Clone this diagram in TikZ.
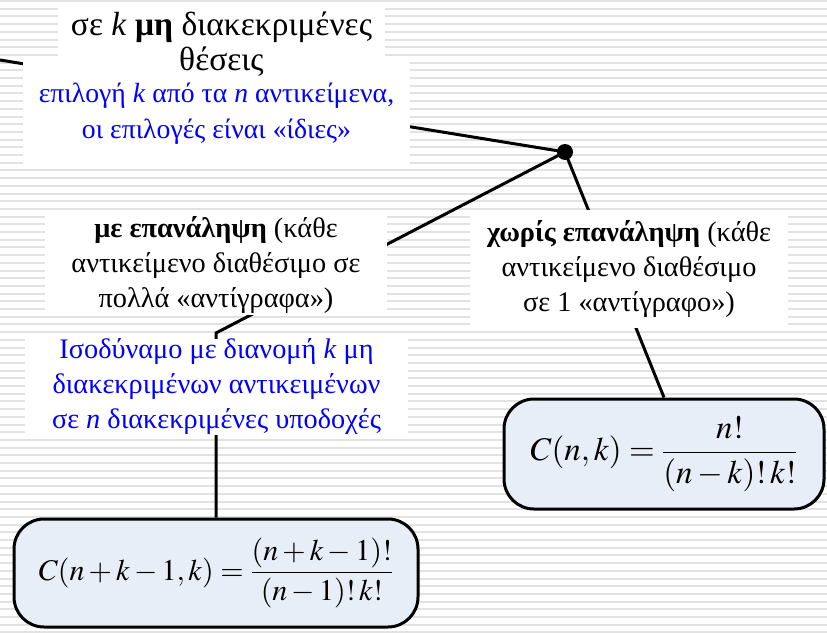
\documentclass[tikz,border=0pt]{standalone}
\usepackage{mathptmx}
\usepackage{fontspec}
\setmainfont{Liberation Serif}
\newfontfamily\greekserif{Liberation Serif}
\usetikzlibrary{positioning}
\definecolor{stripe}{HTML}{E2E2E2}
\definecolor{formula-fill}{HTML}{E8EEF8}
\definecolor{note-blue}{HTML}{0000FF}
\pgfdeclarelayer{stripes}
\pgfdeclarelayer{wires}
\pgfsetlayers{stripes,wires,main}
\tikzset{
  textbox/.style={
    fill=white, inner sep=0pt, align=center,
    font=\greekserif\fontsize{28.3}{35}\selectfont
  },
  titlebox/.style={textbox, font=\greekserif\fontsize{33.5}{35}\selectfont},
  bluebox/.style={textbox, text=note-blue},
  formula/.style={
    draw=black, line width=3pt, fill=formula-fill, rounded corners=30pt,
    inner sep=0pt, font=\fontsize{30}{36}\selectfont
  },
  wire/.style={line width=3pt},
  joint/.style={circle, fill=black, inner sep=0pt, minimum size=16pt}
}

\begin{document}
\begin{tikzpicture}[x=1pt, y=-1pt]

  % ---- Striped background --------------------------------------------------
  \useasboundingbox (0,0) rectangle (827,632);
  \begin{pgfonlayer}{stripes}
    \fill[white] (0,0) rectangle (827,632);
    \foreach \i in {0,...,82}
      \fill[stripe] (0,\i*7.7) rectangle (827,\i*7.7+2);
  \end{pgfonlayer}

  % ---- Top: the choice itself ----------------------------------------------
  \node[bluebox, minimum width=387pt, minimum height=108pt,
        font=\greekserif\fontsize{27.7}{36}\selectfont] (choice)
        at (216.5,114)
        {επιλογή \textit{k} από τα \textit{n} αντικείμενα,\\
         οι επιλογές είναι «ίδιες»};
  \node[titlebox, minimum width=327pt, minimum height=75pt] (title)
        at (221.5,44.5)
        {σε \textit{k} \textbf{μη} διακεκριμένες\\θέσεις};

  % ---- Branching point -----------------------------------------------------
  \node[joint] (joint) at (565,152) {};
  \coordinate (left-end) at (0,60);

  % ---- With repetition (left branch) ---------------------------------------
  \node[textbox, minimum width=342pt, minimum height=100pt] (with)
        at (216,265)
        {\textbf{με επανάληψη} (κάθε\\αντικείμενο διαθέσιμο σε\\
         πολλά «αντίγραφα»)};
  \node[bluebox, minimum width=383pt, minimum height=93pt]
        (equiv) at (216.5,387)
        {Ισοδύναμο με διανομή \textit{k} μη\\
         διακεκριμένων αντικειμένων\\
         σε \textit{n} διακεκριμένες υποδοχές};
  \node[formula, minimum width=404pt, minimum height=108pt] (lform)
        at (216,573)
        {$\displaystyle C(n+k-1,k)=\frac{(n+k-1)!}{(n-1)!\,k!}$};

  % ---- Without repetition (right branch) -----------------------------------
  \node[textbox, minimum width=318pt, minimum height=118pt] (without)
        at (629,269)
        {\textbf{χωρίς επανάληψη} (κάθε\\αντικείμενο διαθέσιμο\\
         σε 1 «αντίγραφο»)};
  \node[formula, minimum width=320pt, minimum height=110pt,
        font=\fontsize{33}{38}\selectfont] (rform)
        at (664,454)
        {$\displaystyle C(n,k)=\frac{n!}{(n-k)!\,k!}$};

  % ---- Connectors, drawn behind the text boxes -----------------------------
  \coordinate (bend) at (lform.north |- 0,333);
  \begin{pgfonlayer}{wires}
    \draw[wire] (left-end) -- (joint.center);
    \draw[wire] (joint.center) -- (bend) -- (lform.north);
    \draw[wire] (joint.center) -- (rform.north);
  \end{pgfonlayer}

\end{tikzpicture}
\end{document}
